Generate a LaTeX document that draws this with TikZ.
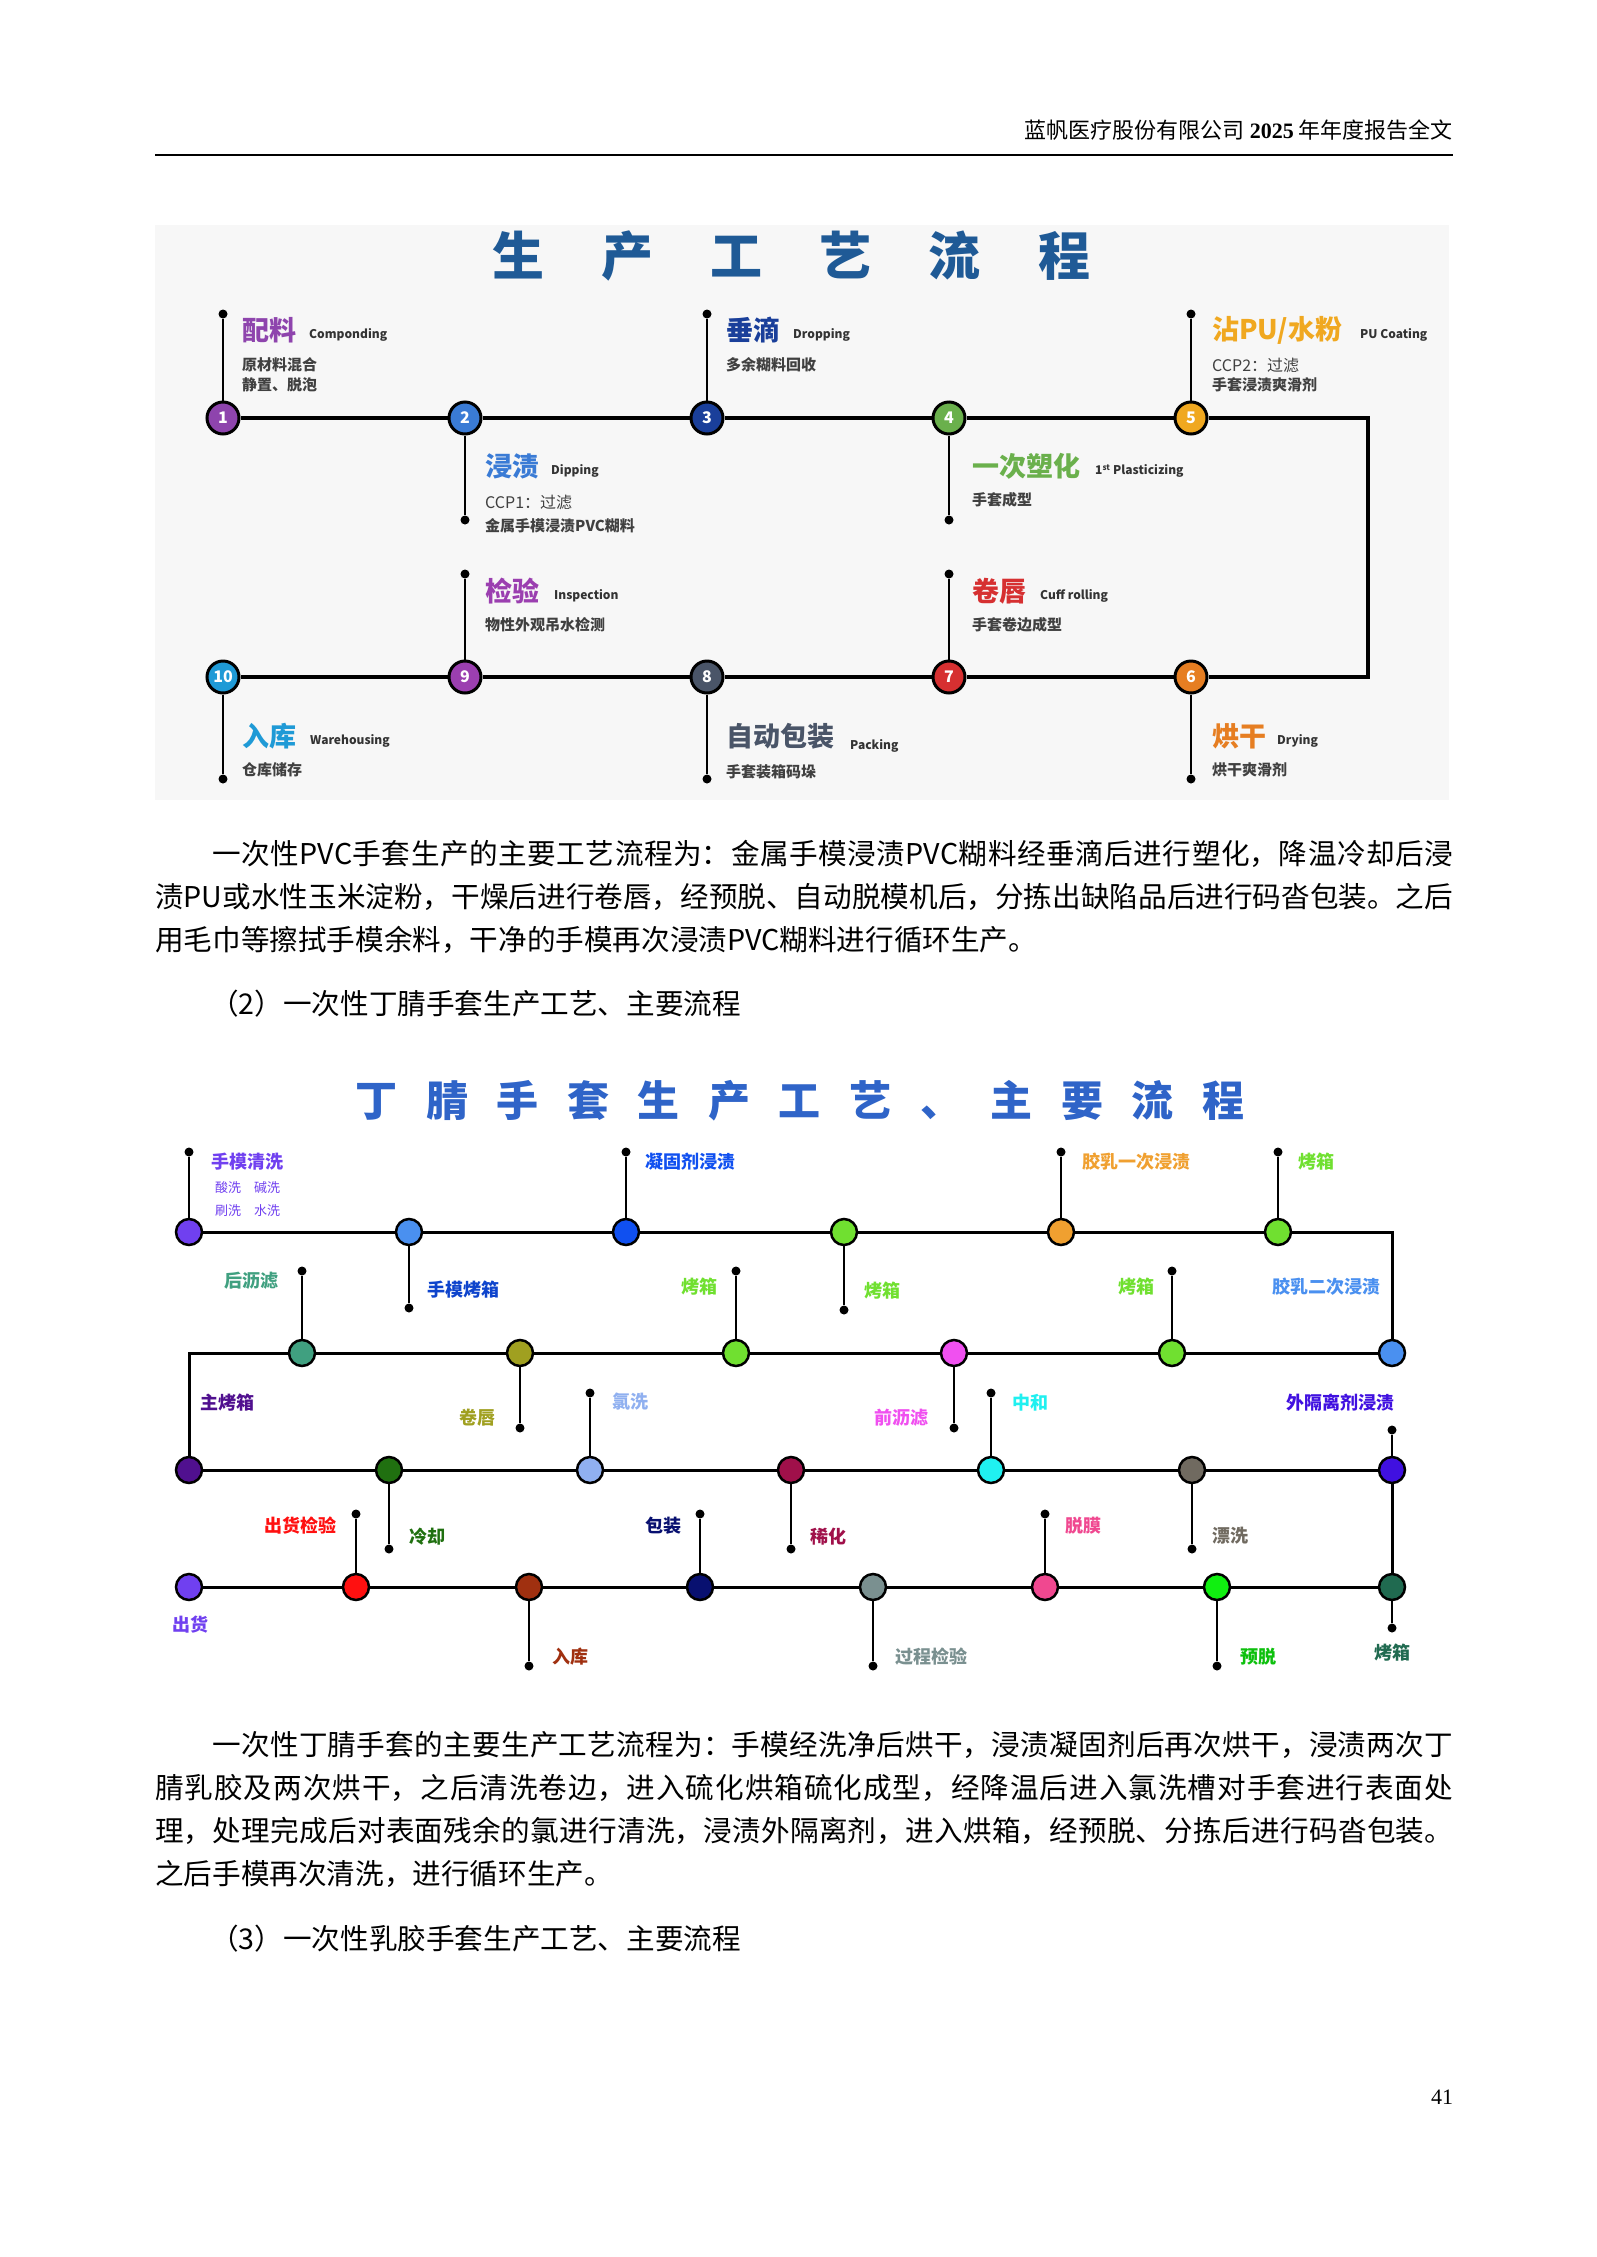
\documentclass[tikz,border=0pt]{standalone}
\usepackage{fontspec}
\setmainfont{Noto Sans CJK SC}
\newfontfamily\serifnum{Liberation Serif}
\XeTeXlinebreaklocale "zh"
\XeTeXlinebreakskip=0pt plus 1pt
\usetikzlibrary{positioning}

% colours of the first chart
\definecolor{ttl}{HTML}{1F5A96}
\definecolor{ka}{HTML}{8E44AD}\definecolor{kb}{HTML}{3A7BD5}
\definecolor{kc}{HTML}{1A3F9A}\definecolor{kd}{HTML}{6AB04C}
\definecolor{ke}{HTML}{F0A820}\definecolor{kf}{HTML}{E67E22}
\definecolor{kg}{HTML}{D63031}\definecolor{kh}{HTML}{4A5568}
\definecolor{ki}{HTML}{9B3FB0}\definecolor{kj}{HTML}{1F9AD6}
% colours of the second chart
\definecolor{ttlb}{HTML}{2F64C8}
\definecolor{qa}{HTML}{7040F0}\definecolor{qb}{HTML}{4A90F0}
\definecolor{qc}{HTML}{1050F0}\definecolor{qd}{HTML}{70E030}
\definecolor{qe}{HTML}{F0A030}\definecolor{qf}{HTML}{40A080}
\definecolor{qg}{HTML}{A0A020}\definecolor{qh}{HTML}{F050F0}
\definecolor{qi}{HTML}{50108F}\definecolor{qj}{HTML}{207010}
\definecolor{qk}{HTML}{90B0F0}\definecolor{ql}{HTML}{A0104A}
\definecolor{qm}{HTML}{20F0F0}\definecolor{qn}{HTML}{706A60}
\definecolor{qo}{HTML}{4010E0}\definecolor{qp}{HTML}{FF1010}
\definecolor{qq}{HTML}{A03010}\definecolor{qr}{HTML}{081070}
\definecolor{qs}{HTML}{7A9090}\definecolor{qt}{HTML}{F04890}
\definecolor{qu}{HTML}{10F010}\definecolor{qv}{HTML}{206A50}

\tikzset{
  station/.style={circle, draw=black, line width=3pt, minimum size=32pt, inner sep=0pt,
    text=white, font=\fontsize{16}{16}\selectfont\bfseries},
  stop/.style={circle, draw=black, line width=2.5pt, minimum size=26pt, inner sep=0pt},
  tip/.style={circle, fill=black, minimum size=9pt, inner sep=0pt},
  track/.style={line width=4pt},
  trackb/.style={line width=3pt},
  stem/.style={line width=2.5pt},
  big/.style={font=\fontsize{27}{27}\selectfont\bfseries, inner sep=0pt, anchor=west},
  eng/.style={font=\fontsize{12}{12}\selectfont\bfseries, text=black!80, inner sep=0pt, anchor=west},
  sub/.style={font=\fontsize{15}{15}\selectfont\bfseries, text=black!75, inner sep=0pt, anchor=west},
  lab/.style={font=\fontsize{18}{18}\selectfont\bfseries, inner sep=0pt},
  body/.style={font=\fontsize{28.6}{43}\selectfont, inner sep=0pt, anchor=north west, align=justify}
}

\begin{document}
\begin{tikzpicture}[x=1pt,y=-1pt]
\useasboundingbox (0,0) rectangle (1596,2257);
\fill[white] (0,0) rectangle (1596,2257);

% header
\node[font=\fontsize{22}{22}\selectfont, anchor=east, inner sep=0pt] (head) at (1453,130) {蓝帆医疗股份有限公司 {\serifnum\bfseries 2025} 年年度报告全文};
\draw[line width=1.5pt] (155,155) -- (1453,155);

% ---- first chart ----
\fill[black!3] (155,225) rectangle (1449,800);
\node[font=\fontsize{52}{52}\selectfont\bfseries, text=ttl] (title) at (791,256) {生\hspace{1.1em}产\hspace{1.1em}工\hspace{1.1em}艺\hspace{1.1em}流\hspace{1.1em}程};

\foreach \n/\x/\y/\c in {1/223/418/ka, 2/465/418/kb, 3/707/418/kc, 4/949/418/kd, 5/1191/418/ke,
  6/1191/677/kf, 7/949/677/kg, 8/707/677/kh, 9/465/677/ki, 10/223/677/kj}
  \node[station, fill=\c] (s\n) at (\x,\y) {\n};
\coordinate (r1) at (1368,418);
\coordinate (r2) at (1368,677);
\draw[track] (s1) -- (s2) -- (s3) -- (s4) -- (s5) -- (r1) -- (r2) -- (s6) -- (s7) -- (s8) -- (s9) -- (s10);

\foreach \n/\y in {1/314, 3/314, 5/314, 2/520, 4/520, 9/574, 7/574, 10/779, 8/779, 6/779}{
  \node[tip] (t\n) at (s\n |- 0,\y) {};
  \draw[stem] (s\n) -- (t\n);
}

\node[big, text=ka] (n1) at (242,330) {配料};
\node[eng] at (309,335) {Componding};
\node[sub] at (242,365) {原材料混合};
\node[sub] at (242,385) {静置、脱泡};
\node[big, text=kb] (n2) at (485,466) {浸渍};
\node[eng] at (551,471) {Dipping};
\node[sub, font=\fontsize{16}{16}\selectfont] at (485,502) {CCP1：过滤};
\node[sub] at (485,526) {金属手模浸渍PVC糊料};
\node[big, text=kc] (n3) at (726,330) {垂滴};
\node[eng] at (793,335) {Dropping};
\node[sub] at (726,365) {多余糊料回收};
\node[big, text=kd] (n4) at (972,466) {一次塑化};
\node[eng] at (1095,471) {1\textsuperscript{st} Plasticizing};
\node[sub] at (972,500) {手套成型};
\node[big, text=ke] (n5) at (1212,330) {沾PU/水粉};
\node[eng] at (1360,335) {PU Coating};
\node[sub, font=\fontsize{16}{16}\selectfont] at (1212,365) {CCP2：过滤};
\node[sub] at (1212,385) {手套浸渍爽滑剂};
\node[big, text=kf] (n6) at (1212,736) {烘干};
\node[eng] at (1277,741) {Drying};
\node[sub] at (1212,770) {烘干爽滑剂};
\node[big, text=kg] (n7) at (972,591) {卷唇};
\node[eng] at (1040,596) {Cuff rolling};
\node[sub] at (972,625) {手套卷边成型};
\node[big, text=kh] (n8) at (726,736) {自动包装};
\node[eng] at (850,746) {Packing};
\node[sub] at (726,772) {手套装箱码垛};
\node[big, text=ki] (n9) at (485,591) {检验};
\node[eng] at (554,596) {Inspection};
\node[sub] at (485,625) {物性外观吊水检测};
\node[big, text=kj] (n10) at (242,736) {入库};
\node[eng] at (310,741) {Warehousing};
\node[sub] at (242,770) {仓库储存};

% ---- text ----
\node[body, text width=1298pt] (para1) at (155,840) {\hspace*{2em}一次性PVC手套生产的主要工艺流程为：金属手模浸渍PVC糊料经垂滴后进行塑化，降温冷却后浸渍PU或水性玉米淀粉，干燥后进行卷唇，经预脱、自动脱模机后，分拣出缺陷品后进行码沓包装。之后用毛巾等擦拭手模余料，干净的手模再次浸渍PVC糊料进行循环生产。};
\node[body, anchor=west] (cap2) at (210,1004) {（2）一次性丁腈手套生产工艺、主要流程};

% ---- second chart ----
\node[font=\fontsize{42}{42}\selectfont\bfseries, text=ttlb] (titleb) at (800,1101) {丁\hspace{0.68em}腈\hspace{0.68em}手\hspace{0.68em}套\hspace{0.68em}生\hspace{0.68em}产\hspace{0.68em}工\hspace{0.68em}艺\hspace{0.68em}、\hspace{0.68em}主\hspace{0.68em}要\hspace{0.68em}流\hspace{0.68em}程};

\foreach \n/\x/\c in {1/189/qa, 2/409/qb, 3/626/qc, 4/844/qd, 5/1061/qe, 6/1278/qd}
  \node[stop, fill=\c] (a\n) at (\x,1232) {};
\foreach \n/\x/\c in {1/302/qf, 2/520/qg, 3/736/qd, 4/954/qh, 5/1172/qd, 6/1392/qb}
  \node[stop, fill=\c] (b\n) at (\x,1353) {};
\foreach \n/\x/\c in {1/189/qi, 2/389/qj, 3/590/qk, 4/791/ql, 5/991/qm, 6/1192/qn, 7/1392/qo}
  \node[stop, fill=\c] (c\n) at (\x,1470) {};
\foreach \n/\x/\c in {1/189/qa, 2/356/qp, 3/529/qq, 4/700/qr, 5/873/qs, 6/1045/qt, 7/1217/qu, 8/1392/qv}
  \node[stop, fill=\c] (d\n) at (\x,1587) {};
\coordinate (k1) at (1392,1232);
\coordinate (k2) at (189,1353);
\draw[trackb] (a1) -- (a2) -- (a3) -- (a4) -- (a5) -- (a6) -- (k1) -- (b6);
\draw[trackb] (b6) -- (b5) -- (b4) -- (b3) -- (b2) -- (b1) -- (k2) -- (c1);
\draw[trackb] (c1) -- (c2) -- (c3) -- (c4) -- (c5) -- (c6) -- (c7) -- (d8);
\draw[trackb] (d8) -- (d7) -- (d6) -- (d5) -- (d4) -- (d3) -- (d2) -- (d1);

\foreach \s/\y in {a1/1152, a2/1308, a3/1152, a4/1310, a5/1152, a6/1152,
  b1/1271, b2/1428, b3/1271, b4/1428, b5/1271,
  c2/1549, c3/1393, c4/1549, c5/1393, c6/1549, c7/1430,
  d2/1514, d3/1666, d4/1514, d5/1666, d6/1514, d7/1666, d8/1628}{
  \node[tip] (e\s) at (\s |- 0,\y) {};
  \draw[stem] (\s) -- (e\s);
}

\node[lab, text=qa, anchor=west] (m1) at (211,1162) {手模清洗};
\node[lab, text=qa, anchor=west, font=\fontsize{13}{13}\selectfont] at (215,1188) {酸洗\hspace{1em}碱洗};
\node[lab, text=qa, anchor=west, font=\fontsize{13}{13}\selectfont] at (215,1211) {刷洗\hspace{1em}水洗};
\node[lab, text=qc!85!black, anchor=west] (m2) at (427,1290) {手模烤箱};
\node[lab, text=qc, anchor=west] (m3) at (645,1162) {凝固剂浸渍};
\node[lab, text=qd, anchor=west] (m4) at (864,1291) {烤箱};
\node[lab, text=qe, anchor=west] (m5) at (1082,1162) {胶乳一次浸渍};
\node[lab, text=qd, anchor=west] (m6) at (1298,1162) {烤箱};
\node[lab, text=qf, anchor=east] (m7) at (279,1281) {后沥滤};
\node[lab, text=qg, anchor=east] (m8) at (496,1418) {卷唇};
\node[lab, text=qd, anchor=east] (m9) at (718,1287) {烤箱};
\node[lab, text=qh, anchor=east] (m10) at (929,1418) {前沥滤};
\node[lab, text=qd, anchor=east] (m11) at (1155,1287) {烤箱};
\node[lab, text=qb, anchor=east] (m12) at (1381,1287) {胶乳二次浸渍};
\node[lab, text=qi, anchor=west] (m13) at (200,1403) {主烤箱};
\node[lab, text=qj, anchor=west] (m14) at (409,1537) {冷却};
\node[lab, text=qk, anchor=west] (m15) at (612,1402) {氯洗};
\node[lab, text=ql, anchor=west] (m16) at (810,1537) {稀化};
\node[lab, text=qm, anchor=west] (m17) at (1012,1403) {中和};
\node[lab, text=qn, anchor=west] (m18) at (1212,1536) {漂洗};
\node[lab, text=qo, anchor=east] (m19) at (1395,1403) {外隔离剂浸渍};
\node[lab, text=qa, anchor=west] (m20) at (172,1625) {出货};
\node[lab, text=qp, anchor=east] (m21) at (337,1526) {出货检验};
\node[lab, text=qq, anchor=west] (m22) at (552,1657) {入库};
\node[lab, text=qr, anchor=east] (m23) at (682,1526) {包装};
\node[lab, text=qs, anchor=west] (m24) at (895,1657) {过程检验};
\node[lab, text=qt, anchor=west] (m25) at (1065,1526) {脱膜};
\node[lab, text=qu!80!black, anchor=west] (m26) at (1240,1657) {预脱};
\node[lab, text=qv] (m27) at (1392,1653) {烤箱};

% ---- text ----
\node[body, text width=1298pt] (para2) at (155,1731) {\hspace*{2em}一次性丁腈手套的主要生产工艺流程为：手模经洗净后烘干，浸渍凝固剂后再次烘干，浸渍两次丁腈乳胶及两次烘干，之后清洗卷边，进入硫化烘箱硫化成型，经降温后进入氯洗槽对手套进行表面处理，处理完成后对表面残余的氯进行清洗，浸渍外隔离剂，进入烘箱，经预脱、分拣后进行码沓包装。之后手模再次清洗，进行循环生产。};
\node[body, anchor=west] (cap3) at (210,1939) {（3）一次性乳胶手套生产工艺、主要流程};
\node[font=\fontsize{22}{22}\selectfont\serifnum, inner sep=0pt] (page) at (1442,2097) {41};
\end{tikzpicture}
\end{document}
